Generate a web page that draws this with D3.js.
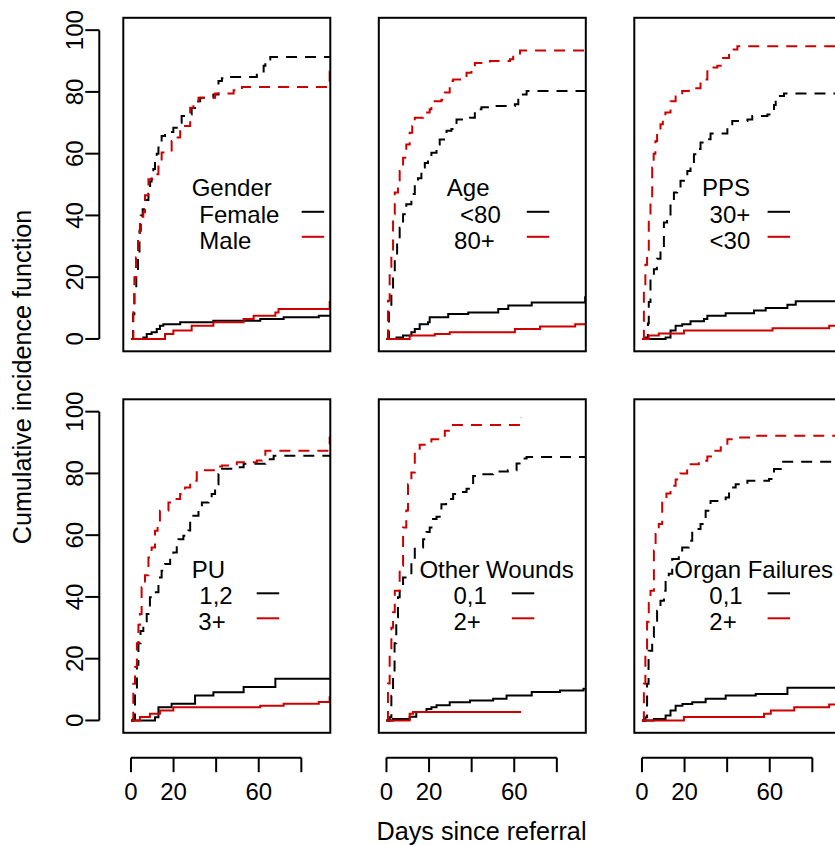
<!DOCTYPE html>
<html><head><meta charset="utf-8">
<script src="https://cdn.jsdelivr.net/npm/d3@7"></script>
<style>
body{margin:0;background:#fff}
svg{display:block}
text{font-family:"Liberation Sans",Arial,Helvetica,sans-serif;font-size:24px;fill:#000}
text.axtitle{font-size:25.2px}
</style>
</head><body>
<svg id="chart" width="835" height="845"></svg>
<script>
// ---------------- data ----------------
const panelTitles = ["Gender", "Age", "PPS", "PU", "Other Wounds", "Organ Failures"];
const groupLabels = [["Female", "Male"], ["<80", "80+"], ["30+", "<30"], ["1,2", "3+"], ["0,1", "2+"], ["0,1", "2+"]];
const xTickValues = [0, 20, 40, 60, 80];
const xTickLabels = ["0", "20", "", "60", ""];
const yTickValues = [0, 20, 40, 60, 80, 100];
const yTickLabels = ["0", "20", "40", "60", "80", "100"];
const xTitle = "Days since referral";
const yTitle = "Cumulative incidence function";
// follow-up end (days) per panel and group
const followUpEnd = [[100, 100], [100, 100], [100, 100], [100, 100], [100, 63.2], [100, 100]];

// [day, cumulative incidence %] ; "main" = dashed, "other" = solid
const genderFemaleMain = [[0,0],[1.0,8],[1.6,15],[2.5,22],[3.3,27],[4.0,35],[4.6,40],[5.5,42],[6.6,45],[8.2,47],[9.0,51],[9.7,53],[10.5,55],[11.3,58],[12.1,60],[12.9,62],[14.4,65.7],[16.0,66.5],[17.6,67],[19.9,68.4],[22.3,70],[23.8,72.2],[27.0,72.7],[28.5,74.8],[30.1,77],[32.5,78.1],[38.7,79.2],[41.1,83.5],[42.7,84.4],[45.0,84.8],[59.1,86.2],[62.3,88.5],[63.1,90.5],[65.4,91.3]];
const genderMaleMain = [[0,0],[1.1,10],[1.6,20],[2.35,26.4],[3.3,33],[4.2,39.6],[5.8,41],[6.6,46.5],[8.2,51.7],[10.5,53.3],[12.9,56.6],[14.4,60.4],[19.1,64.1],[20.7,65.2],[23.1,67.9],[25.4,69],[27.8,74.9],[29.3,76],[31.7,78.1],[39.5,79.5],[48.2,80.5],[52.1,81.6],[93.3,88]];
const genderFemaleOther = [[0,0],[5.8,0.5],[7.4,1.6],[9.7,2.2],[12.1,3.2],[13.6,4.3],[15.2,4.8],[23.1,5.4],[38.7,5.9],[60.7,6.5],[71.7,7.0],[88.2,7.5]];
const genderMaleOther = [[0,0],[16,1.6],[19.9,2.7],[28.5,4.3],[38.7,5.4],[52.9,6.5],[57.6,7.5],[67.8,8.6],[69.3,9.7],[93.3,12]];

const ageUnder80Main = [[0,0],[1.2,9],[2.3,14.5],[3.1,21],[3.9,26.4],[5.0,32],[6.2,36],[7.8,40.4],[9.3,43.6],[11.7,46.9],[13.3,50.7],[14.8,52],[16.4,55.5],[18,57],[19.5,59.2],[21.1,60.3],[23.5,63],[25,64.6],[28.2,67.4],[30.5,68],[32.9,71.1],[39.2,71.6],[41.5,74.4],[44.6,75],[48.6,75.4],[60.3,76],[61.9,79.2],[65.8,80.3]];
const age80PlusMain = [[0,0],[0.7,12.4],[1.5,21],[2.3,27.5],[3.1,40.4],[3.9,47.4],[5.4,50.7],[6.2,54.4],[7.8,58.7],[9.3,63],[10.9,66.8],[12.1,69],[13.3,71.6],[17.2,73.3],[20.3,74.4],[21.1,77],[25.8,77.5],[27.4,79.8],[29.7,83.5],[31.3,84],[36,84.5],[37.6,86.2],[39.9,87.8],[41.5,89.4],[48.6,90],[58,90.6],[59.5,91.8],[62.7,93.4]];
const ageUnder80Other = [[0,0],[4.7,0.5],[7.8,1.1],[11.7,2.2],[13.3,3.2],[15.6,4.8],[19.5,5.4],[20.3,7],[29,8.1],[38.4,8.6],[52.5,9.7],[57.2,10.8],[68.2,11.8],[93.3,13.5]];
const age80PlusOther = [[0,0],[10.9,1.1],[22.7,1.6],[29.7,2.2],[60.3,3.2],[72.1,4],[88.6,4.8]];

const pps30PlusMain = [[0,0],[1.6,0.5],[2.8,5],[3.2,12],[4,19.4],[5.6,22.6],[7,26],[8.7,29.6],[10.3,37.7],[11.8,39.2],[13.4,44.2],[15,47.4],[16.5,49],[18.1,51.2],[21.3,54.4],[22.8,56.5],[24.4,59.8],[25.9,61.5],[27.5,63.6],[29.1,64.7],[32.2,66.5],[40.1,69.5],[42.4,70.6],[49.5,71.1],[51.8,72.2],[58.9,72.7],[62,75.8],[62.8,78.7],[66.7,79.5]];
const ppsUnder30Main = [[0,0],[0.9,16.7],[1.6,24],[2.4,28.5],[3.2,39],[4,44.7],[4.8,55.5],[5.5,60],[6.3,64],[7.1,66.8],[8.7,69.5],[9.8,71.5],[11,73.3],[13.4,77],[15.8,78.5],[18.9,80.3],[22,81.2],[27.5,84],[30.7,87.9],[35.4,88.5],[38,91],[40.9,93.7],[44.8,94.8]];
const pps30PlusOther = [[0,0],[11.1,0.5],[13.4,2.7],[15.8,4.3],[18.9,4.8],[22.8,5.7],[29.1,6.5],[30.7,7.5],[39.3,8.3],[52.6,9.2],[58.1,10],[68.3,11.1],[72.2,12.2]];
const ppsUnder30Other = [[0,0],[3.2,1.1],[7.9,1.8],[19.7,2.7],[61.3,3.5],[87.9,4.3]];

const pu12Main = [[0,0],[1.1,0.5],[1.9,10],[2.8,18],[3.5,25],[4.5,29],[5.8,31.8],[7.4,34.5],[8.9,39.9],[10.5,41.5],[12.9,46.3],[14.4,48.5],[16,50.7],[18.4,52.8],[19.9,54.4],[21.5,57.1],[22.3,58.7],[24.6,59.8],[27,61.5],[27.8,65.2],[29.3,66.3],[31.7,67.9],[33.3,70.6],[36.4,71.1],[37.9,73.3],[39.5,76.5],[41.1,79.8],[42.7,81.5],[50.5,82],[52.9,83.1],[63.1,84],[64,84.6],[67,85.7]];
const pu3PlusMain = [[0,0],[1.1,11.9],[1.9,17.3],[2.8,25],[3.5,31],[4.2,34.5],[5,43.1],[6.6,47],[8.2,52.8],[9.7,56],[11.3,61.4],[12.5,64],[13.6,67.9],[17.6,70.6],[19.9,71.7],[23.1,73.3],[25.4,75.4],[27.8,77.6],[30.9,81],[41.1,82.2],[42.7,82.6],[49.7,83.6],[59.1,84.2],[61.5,85.5],[63.1,87.3],[93.3,91.6]];
const pu12Other = [[0,0],[11.3,1],[12.9,4.3],[19.1,5.4],[30.1,8.1],[38.7,9.1],[52.9,10.8],[67.8,13.5]];
const pu3PlusOther = [[0,0],[4.2,1.1],[8.9,2.2],[13.6,3.2],[19.9,4.3],[60.7,4.8],[71.7,5.4],[88.2,6],[93.3,7.5]];

const wounds01Main = [[0,0],[1.5,1],[2.3,8],[3.1,14],[3.8,25],[4.6,33.4],[5.4,39.9],[6.2,44.2],[7.8,46.3],[11.7,51.7],[13.3,56],[17.2,58.7],[18.8,61],[20.3,62.5],[21.9,65.2],[23.5,66],[25.8,70],[28,71],[29.7,71.7],[31.3,73.3],[34,74],[37.6,75],[40.7,79.2],[45,79.7],[50.1,80.6],[57,81],[61.1,83.2],[63.5,84.8],[65.8,85.3]];
const wounds2PlusMain = [[0,0],[0.7,12],[1.5,22],[2.3,30],[3.1,35],[3.9,42],[6.2,50.1],[7.8,62.5],[9.3,68],[10.1,76.5],[11.7,80.3],[13.3,86.8],[15.6,89.3],[21.1,91.1],[27.4,93.8],[30.5,95.7],[63.2,98]];
const wounds01Other = [[0,0],[3.1,0.5],[10.9,1.2],[14,2.7],[18.8,3.7],[21.1,4.3],[23.5,4.9],[29.7,5.9],[39.2,6.5],[50.1,7],[56.4,8.1],[68.2,9.2],[81.5,9.7],[92.5,10.3]];
const wounds2PlusOther = [[0,0],[10.9,2.2],[12.5,2.7]];

const organ01Main = [[0,0],[1.6,1],[2.4,11.9],[3.1,22.6],[4.8,27],[5.6,32.3],[7.1,35.5],[8.7,38.8],[10.3,42],[11.1,45.3],[12.6,47.5],[14.2,52.3],[17.3,55],[18.9,56],[22,58.2],[23.6,61.4],[25.2,62],[27.5,63.6],[29.9,67.9],[32.2,71.1],[39.3,72.2],[40.9,75.4],[44,76.5],[49.5,77.6],[59.7,78.2],[62,81.4],[65.2,83.8]];
const organ2PlusMain = [[0,0],[0.9,11.9],[1.6,22],[2.4,32],[3.2,38],[4,42],[5.6,55],[6.4,60.4],[7.9,63.6],[9.5,71.7],[11.5,73.5],[13.4,76],[15.8,78],[18.1,80],[21.2,83],[26.7,84.1],[30.7,85.5],[33.8,87.3],[37,89],[40.1,91.1],[44,91.6],[50.3,92.2]];
const organ01Other = [[0,0],[5.6,0.5],[11.1,1.6],[13.4,3.2],[15.8,4.8],[19,5.3],[23.6,5.9],[29.9,7],[39.3,8.1],[53.4,8.6],[68.3,10.6]];
const organ2PlusOther = [[0,0],[19.7,1.1],[57.3,2.2],[60.5,3.2],[71.5,4.3],[87.9,5.2]];

const panelSeries = [
  [genderFemaleMain, genderMaleMain, genderFemaleOther, genderMaleOther],
  [ageUnder80Main, age80PlusMain, ageUnder80Other, age80PlusOther],
  [pps30PlusMain, ppsUnder30Main, pps30PlusOther, ppsUnder30Other],
  [pu12Main, pu3PlusMain, pu12Other, pu3PlusOther],
  [wounds01Main, wounds2PlusMain, wounds01Other, wounds2PlusOther],
  [organ01Main, organ2PlusMain, organ01Other, organ2PlusOther]
];

// ---------------- layout ----------------
const colLeft = [123.3, 378.8, 634.3];
const boxW = 207;
const rowTop = [17.8, 399.3];
const boxH = 333.5;
const groupColors = ["#000000", "#CD0000"];
const dashPattern = "11,8";
// legend layout (pixel offsets from the box's left / top edge)
const legTitleDx = [68.4, 68, 67.7, 68.4, 40.6, 40];
const legEntryDx = [[76, 76], [81.3, 75.3], [75.3, 75.3], [76, 75], [74.6, 74.6], [75, 75]];
const legSampleDx = [178.4, 148, 133.3, 133.4, 133, 133.3];
const legSampleLen = 22.5;

const svg = d3.select("#chart");
svg.append("rect").attr("width", 835).attr("height", 845).attr("fill", "#fff");

const defs = svg.append("defs");

panelSeries.forEach((series, i) => {
  const col = i % 3, row = Math.floor(i / 3);
  const left = colLeft[col], top = rowTop[row];
  const x = d3.scaleLinear().domain([-3.6, 93.6]).range([left, left + boxW]);
  const y = d3.scaleLinear().domain([-4, 104]).range([top + boxH, top]);

  defs.append("clipPath").attr("id", "clip" + i)
    .append("rect").attr("x", left).attr("y", top).attr("width", boxW).attr("height", boxH);

  const g = svg.append("g");
  const plot = g.append("g").attr("clip-path", "url(#clip" + i + ")");
  const line = d3.line().x(d => x(d[0])).y(d => y(d[1])).curve(d3.curveStepAfter);

  // order: main black, main red, other black, other red
  const specs = [
    {data: series[0], grp: 0, dashed: true},
    {data: series[1], grp: 1, dashed: true},
    {data: series[2], grp: 0, dashed: false},
    {data: series[3], grp: 1, dashed: false}
  ];
  specs.forEach(s => {
    const end = followUpEnd[i][s.grp];
    const last = s.data[s.data.length - 1];
    const pts = s.data.slice();
    if (end > last[0]) pts.push([end, last[1]]);
    plot.append("path")
      .attr("d", line(pts))
      .attr("fill", "none")
      .attr("stroke", groupColors[s.grp])
      .attr("stroke-width", 2)
      .attr("stroke-dasharray", s.dashed ? dashPattern : null);
  });

  // box
  g.append("rect").attr("x", left).attr("y", top).attr("width", boxW).attr("height", boxH)
    .attr("fill", "none").attr("stroke", "#000").attr("stroke-width", 2);

  // legend
  g.append("text").attr("x", left + legTitleDx[i]).attr("y", top + 178.4).text(panelTitles[i]);
  groupLabels[i].forEach((lab, k) => {
    g.append("text").attr("x", left + legEntryDx[i][k]).attr("y", top + 205 + k * 25.8).text(lab);
    g.append("line")
      .attr("x1", left + legSampleDx[i]).attr("x2", left + legSampleDx[i] + legSampleLen)
      .attr("y1", top + 194 + k * 25).attr("y2", top + 194 + k * 25)
      .attr("stroke", groupColors[k]).attr("stroke-width", 2);
  });

  // y axis for left column
  if (col === 0) {
    const ax = 99.3;
    const ya = svg.append("g");
    ya.append("line").attr("x1", ax).attr("x2", ax)
      .attr("y1", y(yTickValues[0])).attr("y2", y(yTickValues[yTickValues.length - 1]))
      .attr("stroke", "#000").attr("stroke-width", 2);
    yTickValues.forEach((v, k) => {
      ya.append("line").attr("x1", ax - 14).attr("x2", ax).attr("y1", y(v)).attr("y2", y(v))
        .attr("stroke", "#000").attr("stroke-width", 2);
      ya.append("text").attr("transform", `translate(83,${y(v)}) rotate(-90)`)
        .attr("text-anchor", "middle").text(yTickLabels[k]);
    });
  }
  // x axis for bottom row
  if (row === 1) {
    const ay = 757.7;
    const xa = svg.append("g");
    xa.append("line").attr("x1", x(xTickValues[0])).attr("x2", x(xTickValues[xTickValues.length - 1]))
      .attr("y1", ay).attr("y2", ay).attr("stroke", "#000").attr("stroke-width", 2);
    xTickValues.forEach((v, k) => {
      xa.append("line").attr("x1", x(v)).attr("x2", x(v)).attr("y1", ay).attr("y2", ay + 14.5)
        .attr("stroke", "#000").attr("stroke-width", 2);
      if (xTickLabels[k]) xa.append("text").attr("x", x(v)).attr("y", 800.3)
        .attr("text-anchor", "middle").text(xTickLabels[k]);
    });
  }
});

svg.append("text").attr("class", "axtitle").attr("transform", "translate(30.5,377) rotate(-90)")
  .attr("text-anchor", "middle").text(yTitle);
svg.append("text").attr("class", "axtitle").attr("x", 481.5).attr("y", 839.5).attr("text-anchor", "middle").text(xTitle);
</script>
</body></html>
